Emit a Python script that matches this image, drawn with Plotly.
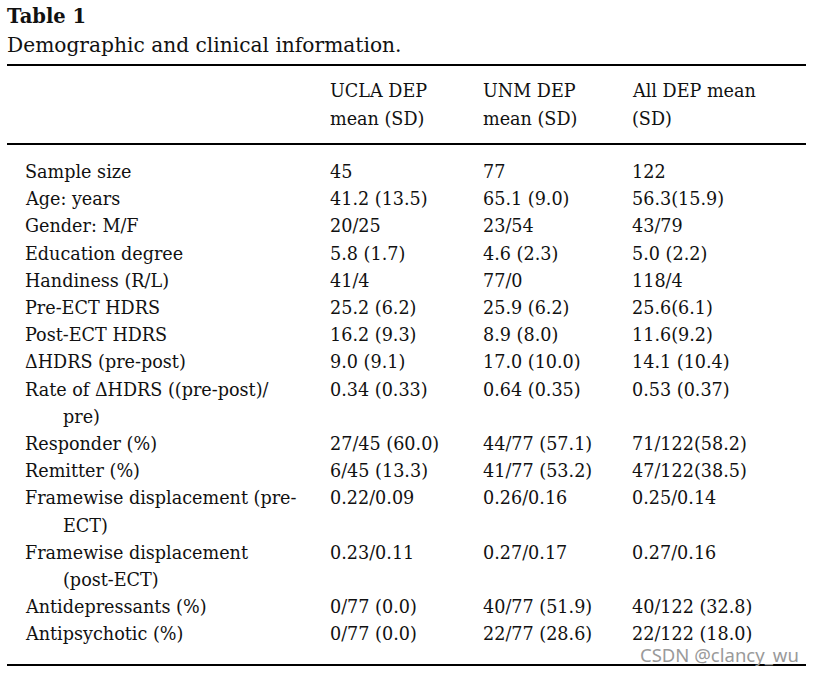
import plotly.graph_objects as go

title = "Table 1"
subtitle = "Demographic and clinical information."
col_headers = [["UCLA DEP", "mean (SD)"], ["UNM DEP", "mean (SD)"], ["All DEP mean", "(SD)"]]
row_labels = [
    ["Sample size"],
    ["Age: years"],
    ["Gender: M/F"],
    ["Education degree"],
    ["Handiness (R/L)"],
    ["Pre-ECT HDRS"],
    ["Post-ECT HDRS"],
    ["ΔHDRS (pre-post)"],
    ["Rate of ΔHDRS ((pre-post)/", "pre)"],
    ["Responder (%)"],
    ["Remitter (%)"],
    ["Framewise displacement (pre-", "ECT)"],
    ["Framewise displacement", "(post-ECT)"],
    ["Antidepressants (%)"],
    ["Antipsychotic (%)"],
]
ucla = ["45", "41.2 (13.5)", "20/25", "5.8 (1.7)", "41/4", "25.2 (6.2)", "16.2 (9.3)",
        "9.0 (9.1)", "0.34 (0.33)", "27/45 (60.0)", "6/45 (13.3)", "0.22/0.09",
        "0.23/0.11", "0/77 (0.0)", "0/77 (0.0)"]
unm = ["77", "65.1 (9.0)", "23/54", "4.6 (2.3)", "77/0", "25.9 (6.2)", "8.9 (8.0)",
       "17.0 (10.0)", "0.64 (0.35)", "44/77 (57.1)", "41/77 (53.2)", "0.26/0.16",
       "0.27/0.17", "40/77 (51.9)", "22/77 (28.6)"]
all_dep = ["122", "56.3(15.9)", "43/79", "5.0 (2.2)", "118/4", "25.6(6.1)", "11.6(9.2)",
           "14.1 (10.4)", "0.53 (0.37)", "71/122(58.2)", "47/122(38.5)", "0.25/0.14",
           "0.27/0.16", "40/122 (32.8)", "22/122 (18.0)"]
watermark = "CSDN @clancy_wu"

FONT = "DejaVu Serif"
W, H = 818, 674
PAD = 2
label_x, indent_x = 25 - PAD, 63 - PAD
col_x = [330 - PAD, 483 - PAD, 632 - PAD]
body_top, line_step = 172, 27.2
head_y = [91, 119]

fig = go.Figure()
ann = []
def txt(x, y, s, size=17.6, bold=False, color="#111", family=FONT):
    ann.append(dict(x=x, y=y, xref="x", yref="y",
                    text=("<b>%s</b>" % s if bold else s),
                    showarrow=False, xanchor="left", yanchor="middle",
                    font=dict(family=family, size=size, color=color)))

txt(7 - PAD, 16, title, size=19.5, bold=True)
txt(7 - PAD, 45, subtitle, size=20.2)
for ci, hdr in enumerate(col_headers):
    for li, line in enumerate(hdr):
        txt(col_x[ci], head_y[li], line)

line_idx = 0
for ri, lab in enumerate(row_labels):
    y0 = body_top + line_idx * line_step
    for li, part in enumerate(lab):
        txt(label_x if li == 0 else indent_x, y0 + li * line_step, part)
    for ci, col in enumerate([ucla, unm, all_dep]):
        txt(col_x[ci], y0, col[ri])
    line_idx += len(lab)

txt(638, 654, watermark, size=18.5, color="#9a9a9a", family="Noto Sans")

shapes = []
for yy in [65, 144, 665]:
    shapes.append(dict(type="line", xref="x", yref="y", x0=7, x1=806, y0=yy, y1=yy,
                       line=dict(color="black", width=2)))

fig.update_layout(
    width=W, height=H, margin=dict(l=0, r=0, t=0, b=0),
    paper_bgcolor="white", plot_bgcolor="white",
    xaxis=dict(range=[0, W], visible=False, fixedrange=True),
    yaxis=dict(range=[H, 0], visible=False, fixedrange=True),
    annotations=ann, shapes=shapes, showlegend=False,
)
fig.write_html(
    "out.html",
    config={"displayModeBar": False},
    post_script="document.body.style.margin='0';document.body.style.overflow='hidden';",
)
